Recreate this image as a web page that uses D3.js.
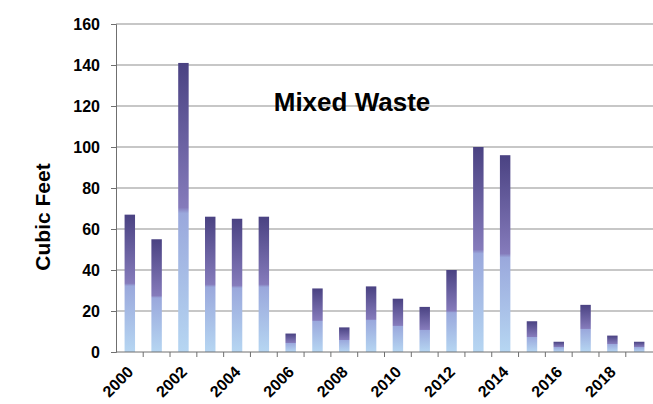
<!DOCTYPE html>
<html>
<head>
<meta charset="utf-8">
<script src="https://cdn.jsdelivr.net/npm/d3@7"></script>
<style>
  html, body { margin: 0; padding: 0; background: #fff; }
  svg { display: block; font-family: Arial, "Liberation Sans", sans-serif; }
</style>
</head>
<body>
<svg id="chart" width="653" height="404"></svg>
<script>
// Annual mixed waste volumes
const years = ["2000","2001","2002","2003","2004","2005","2006","2007","2008","2009",
               "2010","2011","2012","2013","2014","2015","2016","2017","2018","2019"];
const cubicFeet = [67, 55, 141, 66, 65, 66, 9, 31, 12, 32,
                   26, 22, 40, 100, 96, 15, 5, 23, 8, 5];
const yTicks = [0, 20, 40, 60, 80, 100, 120, 140, 160];
const xLabelYears = ["2000","2002","2004","2006","2008","2010","2012","2014","2016","2018"];

const svg = d3.select("#chart");
const margin = { top: 24, right: 0, bottom: 52, left: 116 };
const width = 653, height = 404;

const x = d3.scaleBand()
  .domain(years)
  .range([margin.left, width - margin.right])
  .paddingInner(0.61)
  .paddingOuter(0.32);

const y = d3.scaleLinear()
  .domain([0, 160])
  .range([height - margin.bottom, margin.top]);

// Bar fill gradient: dark violet at the top fading to pale blue at the base
const defs = svg.append("defs");
const grad = defs.append("linearGradient")
  .attr("id", "barFill")
  .attr("x1", 0).attr("y1", 0).attr("x2", 0).attr("y2", 1);
[
  [0, "#4a4282"],
  [0.5, "#857bbb"],
  [0.52, "#9aa8dc"],
  [1, "#b6d6f2"]
].forEach(([o, c]) => grad.append("stop").attr("offset", o).attr("stop-color", c));

// Horizontal gridlines
svg.append("g")
  .selectAll("line")
  .data(yTicks.filter(d => d > 0))
  .join("line")
  .attr("x1", margin.left)
  .attr("x2", width - margin.right)
  .attr("y1", d => y(d))
  .attr("y2", d => y(d))
  .attr("stroke", "#8f8f8f")
  .attr("stroke-width", 1);

// Bars
svg.append("g")
  .selectAll("rect")
  .data(years.map((yr, i) => ({ yr, v: cubicFeet[i] })))
  .join("rect")
  .attr("x", d => x(d.yr))
  .attr("y", d => y(d.v))
  .attr("width", x.bandwidth())
  .attr("height", d => y(0) - y(d.v))
  .attr("fill", "url(#barFill)");

// Y axis
const yAxis = d3.axisLeft(y).tickValues(yTicks).tickSize(5).tickPadding(11);
const gy = svg.append("g")
  .attr("transform", `translate(${margin.left},0)`)
  .call(yAxis);
gy.select(".domain").attr("stroke", "#6f6f6f").attr("stroke-width", 1);
gy.selectAll(".tick line").attr("stroke", "#6f6f6f");
gy.selectAll(".tick text")
  .attr("fill", "#000")
  .style("font-size", "16px")
  .style("font-weight", "bold");

// X axis: ticks at band boundaries, labels every other year
const gx = svg.append("g")
  .attr("transform", `translate(0,${y(0)})`);
gx.append("line")
  .attr("x1", margin.left).attr("x2", width - margin.right)
  .attr("y1", 0).attr("y2", 0)
  .attr("stroke", "#6f6f6f");
const step = x.step();
const boundaries = years.map(yr => x(yr) - (step - x.bandwidth()) / 2).filter(b => b > margin.left + 1);
gx.selectAll("line.tk")
  .data(boundaries)
  .join("line")
  .attr("class", "tk")
  .attr("x1", d => d).attr("x2", d => d)
  .attr("y1", 0).attr("y2", 5)
  .attr("stroke", "#6f6f6f");
gx.selectAll("text")
  .data(xLabelYears)
  .join("text")
  .attr("text-anchor", "end")
  .attr("transform", d => `translate(${x(d) + x.bandwidth() / 2 + 4.5},${21}) rotate(-45)`)
  .attr("fill", "#000")
  .style("font-size", "16px")
  .style("font-weight", "bold")
  .text(d => d);

// Axis title
svg.append("text")
  .attr("transform", `translate(50,217) rotate(-90)`)
  .attr("text-anchor", "middle")
  .style("font-size", "21px")
  .style("font-weight", "bold")
  .attr("fill", "#000")
  .text("Cubic Feet");

// Chart title
svg.append("text")
  .attr("x", 352)
  .attr("y", 111)
  .attr("text-anchor", "middle")
  .style("font-size", "26px")
  .style("font-weight", "bold")
  .attr("fill", "#000")
  .text("Mixed Waste");
</script>
</body>
</html>
